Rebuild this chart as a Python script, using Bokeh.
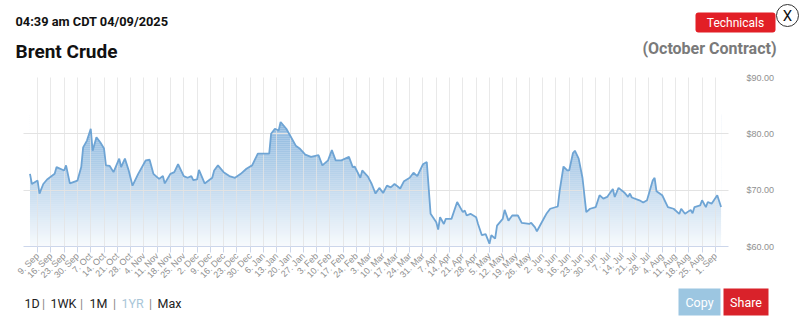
import numpy as np
import pandas as pd
from bokeh.plotting import figure
from bokeh.layouts import column
from bokeh.models import Range1d, FixedTicker, NumeralTickFormatter, Label, BoxAnnotation
from bokeh.embed import file_html
from bokeh.resources import INLINE

# ---------------- data ----------------
dates = [
    "2024-09-05", "2024-09-06", "2024-09-09", "2024-09-10", "2024-09-12", "2024-09-14", "2024-09-18",
    "2024-09-19", "2024-09-23", "2024-09-24", "2024-09-26", "2024-09-30",
    "2024-10-02", "2024-10-03", "2024-10-05", "2024-10-07", "2024-10-08", "2024-10-10", "2024-10-12",
    "2024-10-14", "2024-10-15", "2024-10-17", "2024-10-19", "2024-10-22", "2024-10-23", "2024-10-25",
    "2024-10-27", "2024-10-29", "2024-11-01",
    "2024-11-05", "2024-11-07", "2024-11-09", "2024-11-12", "2024-11-14", "2024-11-15", "2024-11-18",
    "2024-11-20", "2024-11-22", "2024-11-25", "2024-11-27", "2024-11-29", "2024-11-30",
    "2024-12-02", "2024-12-03", "2024-12-06", "2024-12-10", "2024-12-11", "2024-12-13", "2024-12-16",
    "2024-12-19", "2024-12-22", "2024-12-25", "2024-12-28", "2024-12-31",
    "2025-01-03", "2025-01-07", "2025-01-09", "2025-01-10", "2025-01-12", "2025-01-14", "2025-01-15",
    "2025-01-18", "2025-01-20", "2025-01-23", "2025-01-25", "2025-01-28", "2025-01-31",
    "2025-02-04", "2025-02-06", "2025-02-09", "2025-02-11", "2025-02-13", "2025-02-16", "2025-02-20",
    "2025-02-22", "2025-02-23", "2025-02-26", "2025-02-27",
    "2025-03-02", "2025-03-04", "2025-03-06", "2025-03-08", "2025-03-10", "2025-03-12", "2025-03-14",
    "2025-03-16", "2025-03-19", "2025-03-21", "2025-03-24", "2025-03-26", "2025-03-28", "2025-03-31",
    "2025-04-02", "2025-04-04", "2025-04-07", "2025-04-08", "2025-04-09", "2025-04-11", "2025-04-12",
    "2025-04-15", "2025-04-18", "2025-04-21", "2025-04-22", "2025-04-23", "2025-04-25", "2025-04-28",
    "2025-04-29",
    "2025-05-01", "2025-05-03", "2025-05-05", "2025-05-06", "2025-05-08", "2025-05-09", "2025-05-12",
    "2025-05-13", "2025-05-15", "2025-05-17", "2025-05-20", "2025-05-22", "2025-05-26", "2025-05-27",
    "2025-05-29", "2025-05-30",
    "2025-06-03", "2025-06-04", "2025-06-06", "2025-06-10", "2025-06-11", "2025-06-13", "2025-06-15",
    "2025-06-16", "2025-06-18", "2025-06-19", "2025-06-21", "2025-06-23", "2025-06-25", "2025-06-27",
    "2025-06-30",
    "2025-07-02", "2025-07-04", "2025-07-06", "2025-07-09", "2025-07-10", "2025-07-12", "2025-07-15",
    "2025-07-17", "2025-07-18", "2025-07-19", "2025-07-23", "2025-07-25", "2025-07-27", "2025-07-30",
    "2025-07-31",
    "2025-08-01", "2025-08-04", "2025-08-07", "2025-08-10", "2025-08-13", "2025-08-14", "2025-08-16",
    "2025-08-19", "2025-08-20", "2025-08-21", "2025-08-24", "2025-08-25", "2025-08-27", "2025-08-28",
    "2025-08-30",
    "2025-09-02", "2025-09-04",
]
prices = [
    72.9, 71.1, 71.7, 69.4, 71.1, 71.9, 72.9, 74.1, 73.5, 74.4, 71.2, 71.7,
    74.1, 77.6, 78.8, 80.9, 77.0, 79.4, 78.5, 77.4, 74.4, 74.3, 73.2, 75.6, 74.1, 75.6, 73.5, 70.8, 72.9,
    75.3, 75.4, 72.9, 72.0, 72.5, 71.2, 72.9, 73.2, 74.6, 72.5, 72.2, 72.5, 71.8,
    71.9, 73.6, 71.2, 72.2, 73.5, 74.4, 73.2, 72.5, 72.2, 72.9, 73.8, 74.4,
    76.5, 76.5, 76.5, 80.0, 80.9, 80.6, 82.1, 80.9, 79.7, 77.9, 77.4, 76.3, 75.9,
    76.2, 74.4, 75.3, 77.1, 75.3, 75.3, 75.9, 74.1, 74.2, 72.2, 73.5,
    72.4, 71.1, 69.4, 70.4, 69.5, 70.8, 70.5, 71.1, 70.3, 71.6, 72.2, 73.1, 72.5, 74.6,
    75.0, 65.8, 64.3, 63.0, 65.2, 64.0, 64.9, 64.9, 67.9, 66.1, 66.4, 65.5, 65.8, 65.2, 64.0,
    62.0, 62.2, 60.5, 62.0, 61.4, 63.7, 64.9, 66.5, 64.6, 65.5, 65.5, 64.2, 64.0, 64.2, 63.4, 62.7,
    65.2, 65.8, 66.7, 67.1, 69.9, 74.2, 73.5, 73.5, 76.6, 77.0, 75.6, 72.2, 66.1, 66.7, 67.0,
    69.1, 68.5, 68.8, 70.2, 68.8, 70.4, 69.6, 68.8, 69.4, 68.7, 68.2, 67.8, 68.2, 71.7, 72.2,
    69.8, 69.1, 67.0, 66.7, 65.8, 66.7, 65.8, 66.5, 65.9, 67.0, 67.3, 68.2, 67.0, 67.9, 67.6,
    69.1, 67.0,
]
tick_labels = [
    "9. Sep", "16. Sep", "23. Sep", "30. Sep", "7. Oct", "14. Oct", "21. Oct", "28. Oct",
    "4. Nov", "11. Nov", "18. Nov", "25. Nov", "2. Dec", "9. Dec", "16. Dec", "23. Dec", "30. Dec",
    "6. Jan", "13. Jan", "20. Jan", "27. Jan", "3. Feb", "10. Feb", "17. Feb", "24. Feb",
    "3. Mar", "10. Mar", "17. Mar", "24. Mar", "31. Mar", "7. Apr", "14. Apr", "21. Apr", "28. Apr",
    "5. May", "12. May", "19. May", "26. May", "2. Jun", "9. Jun", "16. Jun", "23. Jun", "30. Jun",
    "7. Jul", "14. Jul", "21. Jul", "28. Jul", "4. Aug", "11. Aug", "18. Aug", "25. Aug", "1. Sep",
]
first_tick = "2024-09-09"
y_ticks = [60, 70, 80, 90]

# ---------------- layout constants ----------------
W = 800
HDR_H = 71
MAIN_TOP, FRAME_H, MAIN_BOT = 6, 169, 41
FTR_H = 325 - HDR_H - (MAIN_TOP + FRAME_H + MAIN_BOT)
F_LEFT, F_RIGHT = 23, 728
Y0, Y1 = 60, 90


def panel(h):
    f = figure(width=W, height=h, x_range=Range1d(0, W), y_range=Range1d(h, 0),
               x_axis_type=None, y_axis_type=None, output_backend="svg", toolbar_location=None,
               min_border=0, min_border_left=0, min_border_right=0,
               min_border_top=0, min_border_bottom=0)
    f.frame_align = False
    f.outline_line_color = None
    f.grid.visible = False
    f.background_fill_color = "white"
    f.border_fill_color = "white"
    return f


def label(f, txt, px, py, size, color="#111111", style="normal", align="left",
          baseline="alphabetic", font="Roboto"):
    f.add_layout(Label(x=px, y=py, text=txt, text_font=font, text_font_size=size,
                       text_color=color, text_font_style=style, text_align=align,
                       text_baseline=baseline))


def box(f, l, r, t, b, color, radius=0):
    f.add_layout(BoxAnnotation(left=l, right=r, top=t, bottom=b, fill_color=color,
                               fill_alpha=1.0, line_color=None, border_radius=radius))


# ---------------- header ----------------
hdr = panel(HDR_H)
label(hdr, "04:39 am CDT 04/09/2025", 15, 21, "12.8px", style="bold")
label(hdr, "Brent Crude", 15, 51, "19px", style="bold")
label(hdr, "(October Contract)", 776, 48, "16px", color="#7a7a7a", style="bold", align="right")
box(hdr, 695, 775, 12, 32, "#e21f26", radius=3)
label(hdr, "Technicals", 735, 22, "12px", color="white", align="center", baseline="middle")
hdr.circle(x=[787], y=[15], radius=11, fill_color="white", line_color="#333333", line_width=1)
label(hdr, "X", 787, 15, "15px", color="#111111", align="center", baseline="middle")

# ---------------- main chart ----------------
x = pd.to_datetime(dates)
x_ms = np.array([t.timestamp() * 1000 for t in x])
tick_dates = pd.date_range(first_tick, periods=len(tick_labels), freq="7D")
tick_ms = [int(t.timestamp() * 1000) for t in tick_dates]

p = figure(width=W, height=MAIN_TOP + FRAME_H + MAIN_BOT, x_axis_type="datetime",
           y_axis_location="right",
           x_range=Range1d(pd.Timestamp("2024-09-01 14:00"), pd.Timestamp("2025-09-07 22:00")),
           y_range=Range1d(Y0, Y1), output_backend="svg", toolbar_location=None,
           min_border_left=F_LEFT, min_border_right=W - F_RIGHT,
           min_border_top=MAIN_TOP, min_border_bottom=MAIN_BOT)
p.frame_align = False
p.outline_line_color = None
p.background_fill_color = "white"
p.border_fill_color = "white"

# gradient fill (pixel aligned bands) + white mask above the line
fill_rgb = "#70a6d6"
unit_per_px = (Y1 - Y0) / FRAME_H
levels = Y0 + np.arange(0, 70) * 2 * unit_per_px
levels = levels[levels <= max(prices) + 1.5]
mids = (levels[:-1] + levels[1:]) / 2
alphas = 0.05 + 0.77 * np.clip((mids - Y0) / (max(prices) - Y0), 0, 1)
p.quad(left=x_ms[0], right=x_ms[-1], bottom=levels[:-1], top=levels[1:],
       fill_color=fill_rgb, fill_alpha=alphas, line_color=None)
p.varea(x=x_ms, y1=prices, y2=Y1, fill_color="white")

p.line(x_ms, prices, line_color="#6ea4d4", line_width=1.8, level="annotation")

# grids
p.xgrid.grid_line_color = "#e3e3e3"
p.xgrid.grid_line_alpha = 0.8
p.ygrid.grid_line_color = "#e3e3e3"
p.xgrid.level = "guide"
p.ygrid.level = "guide"

# x axis
xa = p.xaxis[0]
xa.ticker = FixedTicker(ticks=tick_ms)
xa.major_label_overrides = {k: v for k, v in zip(tick_ms, tick_labels)}
xa.major_label_orientation = np.pi / 4
xa.major_label_text_font = "Liberation Sans"
xa.major_label_text_font_size = "9px"
xa.major_label_text_color = "#8f8f8f"
xa.major_label_standoff = 2
xa.axis_line_color = "#ccd6eb"
xa.major_tick_line_color = "#ccd6eb"
xa.major_tick_out = 6
xa.major_tick_in = 0
xa.minor_tick_line_color = None

# y axis (right)
ya = p.yaxis[0]
ya.ticker = FixedTicker(ticks=y_ticks)
ya.formatter = NumeralTickFormatter(format="$0.00")
ya.axis_line_color = None
ya.major_tick_line_color = None
ya.minor_tick_line_color = None
ya.major_label_text_font = "Liberation Sans"
ya.major_label_text_font_size = "9px"
ya.major_label_text_color = "#8f8f8f"
ya.major_label_standoff = 12

# ---------------- footer ----------------
ftr = panel(FTR_H)
top = 325 - FTR_H
nav = [("1D", 24, "#222222", "left"), ("|", 43, "#888888", "center"),
       ("1WK", 50, "#222222", "left"), ("|", 81, "#888888", "center"),
       ("1M", 89, "#222222", "left"), ("|", 114, "#888888", "center"),
       ("1YR", 121, "#a9c6d8", "left"), ("|", 150, "#888888", "center"),
       ("Max", 157, "#222222", "left")]
for t, px, c, al in nav:
    label(ftr, t, px, 303 - top, "12.5px", color=c, align=al)

box(ftr, 678, 720, 288 - top, 315 - top, "#9cc6e1")
label(ftr, "Copy", 699, 301.5 - top, "12.5px", color="white", align="center", baseline="middle")
box(ftr, 723, 768, 288 - top, 315 - top, "#d9222a")
label(ftr, "Share", 745.5, 301.5 - top, "12.5px", color="white", align="center", baseline="middle")

layout = column(hdr, p, ftr, spacing=0)
open("out.html", "w").write(file_html(layout, INLINE))
